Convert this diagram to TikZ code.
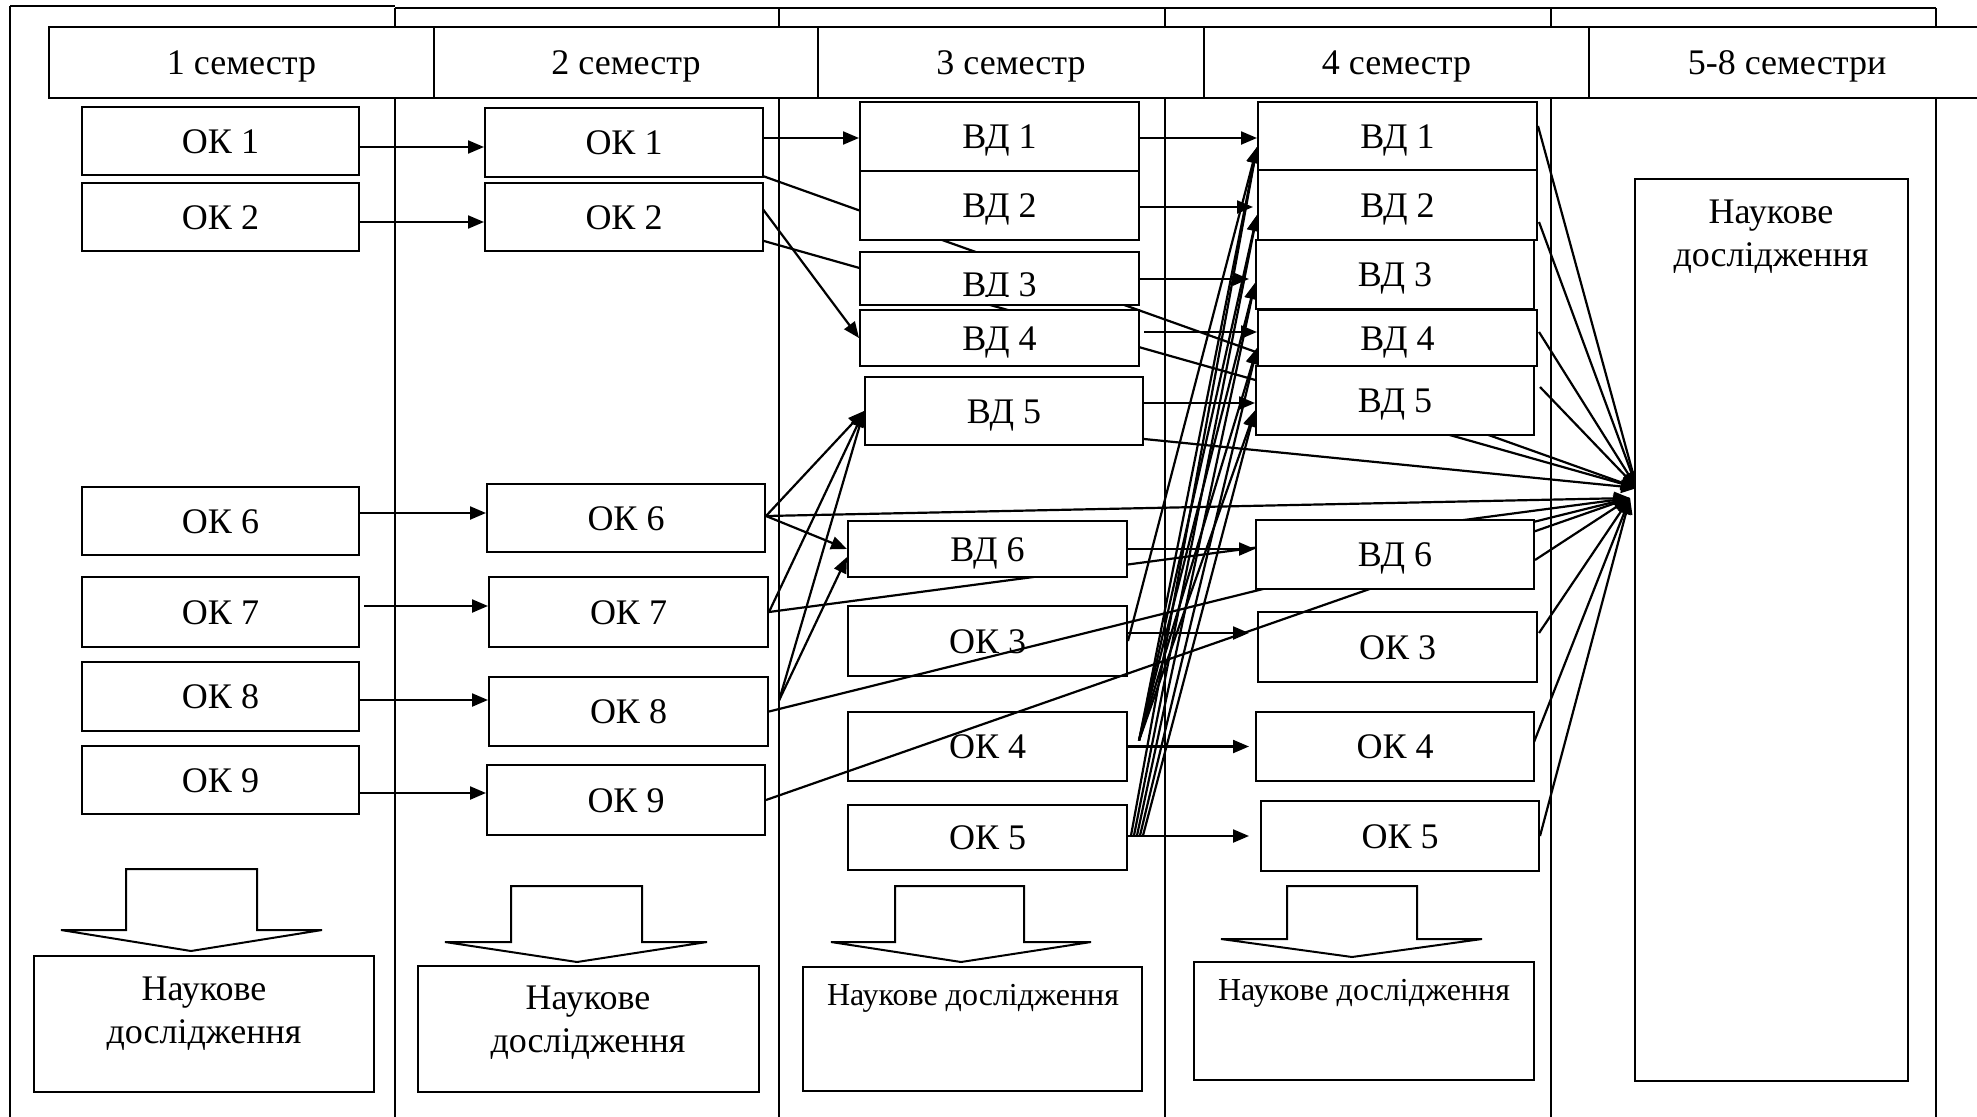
\documentclass[tikz,border=0pt]{standalone}
\usepackage{fontspec}
\setmainfont{Liberation Serif}
\usetikzlibrary{arrows.meta,calc}
\pgfdeclarelayer{back}
\pgfdeclarelayer{over}
\pgfdeclarelayer{top}
\pgfsetlayers{back,main,over,top}
\newcommand\lab{\fontsize{36}{43}\selectfont}
\newcommand\labs{\fontsize{32}{38}\selectfont}
\newcommand\mybox[6]{\node[box,minimum width={#4-#2},minimum height={#5-#3}] (#1) at ({(#2+#4)/2},{(#3+#5)/2}) {#6};}
\newcommand\hcon[4]{\coordinate (tmp) at ($(#1.east)+(#3)$); \draw[con,#4] (tmp) -- (tmp -| #2.west);}
\begin{document}
\begin{tikzpicture}[x=1pt,y=-1pt,
  box/.style={draw,line width=2pt,fill=white,inner sep=0pt,font=\lab,text height=24pt,text depth=0pt},
  lbl/.style={inner sep=0pt,font=\lab,text height=24pt,text depth=0pt},
  slbl/.style={inner sep=0pt,font=\labs,text height=21pt,text depth=0pt},
  con/.style={line width=2.2pt,-{Triangle[length=16pt,width=13pt]}},
  grid/.style={line width=1.6pt},
  blk/.style={draw,line width=2pt,fill=white,line join=miter},
  ntext/.style={font=\lab,align=center,inner sep=0pt}]
\useasboundingbox (0,0) rectangle (1977,1116);

% ---------- header ----------
\mybox{h1}{49}{27}{434}{98}{1 семестр}
\mybox{h2}{434}{27}{818}{98}{2 семестр}
\mybox{h3}{818}{27}{1204}{98}{3 семестр}
\mybox{h4}{1204}{27}{1589}{98}{4 семестр}
\mybox{h5}{1589}{27}{1985}{98}{5-8 семестри}

% ---------- column 1 ----------
\mybox{c1ok1}{82}{107}{359}{175}{ОК 1}
\mybox{c1ok2}{82}{183}{359}{251}{ОК 2}
\mybox{c1ok6}{82}{487}{359}{555}{ОК 6}
\mybox{c1ok7}{82}{577}{359}{647}{ОК 7}
\mybox{c1ok8}{82}{662}{359}{731}{ОК 8}
\mybox{c1ok9}{82}{746}{359}{814}{ОК 9}

% ---------- column 2 ----------
\mybox{c2ok1}{485}{108}{763}{177}{ОК 1}
\mybox{c2ok2}{485}{183}{763}{251}{ОК 2}
\mybox{c2ok6}{487}{484}{765}{552}{ОК 6}
\mybox{c2ok7}{489}{577}{768}{647}{ОК 7}
\mybox{c2ok8}{489}{677}{768}{746}{ОК 8}
\mybox{c2ok9}{487}{765}{765}{835}{ОК 9}

% ---------- column 3 ----------
\mybox{c3vd1}{860}{102}{1139}{171}{ВД 1}
\mybox{c3vd2}{860}{171}{1139}{240}{ВД 2}
\mybox{c3vd3}{860}{252}{1139}{305}{}
\begin{scope}
\clip (860,252) rectangle (1139,296);
\node[lbl] (t3vd3) at (999.5,284) {ВД 3};
\end{scope}
\mybox{c3vd4}{860}{310}{1139}{366}{ВД 4}
\mybox{c3vd5}{865}{377}{1143}{445}{ВД 5}
\mybox{c3vd6}{848}{521}{1127}{577}{ВД 6}
\mybox{c3ok3}{848}{606}{1127}{676}{ОК 3}
\mybox{c3ok4}{848}{712}{1127}{781}{ОК 4}
\mybox{c3ok5}{848}{805}{1127}{870}{ОК 5}

% ---------- column 4 ----------
\mybox{c4vd1}{1258}{102}{1537}{170}{ВД 1}
\mybox{c4vd2}{1258}{170}{1537}{240}{ВД 2}
\mybox{c4vd3}{1256}{240}{1534}{309}{ВД 3}
\mybox{c4vd4}{1258}{310}{1537}{366}{ВД 4}
\mybox{c4vd5}{1256}{366}{1534}{435}{ВД 5}
\begin{pgfonlayer}{top}
\mybox{c4vd6}{1256}{520}{1534}{589}{ВД 6}
\end{pgfonlayer}
\mybox{c4ok3}{1258}{612}{1537}{682}{ОК 3}
\mybox{c4ok4}{1256}{712}{1534}{781}{ОК 4}
\mybox{c4ok5}{1261}{801}{1539}{871}{ОК 5}

% ---------- column 5 ----------
\mybox{n5}{1635}{179}{1908}{1081}{}
\node[ntext] (n5t) at (1771,237) {Наукове\\дослідження};

% ---------- block arrows and research boxes ----------
\draw[blk] (126,869) -- (257,869) -- (257,930) -- (322,930) -- (191,951) -- (61,930) -- (126,930) -- cycle;
\draw[blk] (511,886) -- (642,886) -- (642,942) -- (707,942) -- (577,962) -- (445,942) -- (511,942) -- cycle;
\draw[blk] (895,886) -- (1024,886) -- (1024,942) -- (1091,942) -- (961,962) -- (831,942) -- (895,942) -- cycle;
\draw[blk] (1287,886) -- (1417,886) -- (1417,939) -- (1482,939) -- (1352,957) -- (1221,939) -- (1287,939) -- cycle;

\mybox{n1}{34}{956}{374}{1092}{}
\node[ntext] (n1t) at (204,1014) {Наукове\\дослідження};
\mybox{n2}{418}{966}{759}{1092}{}
\node[ntext] (n2t) at (588,1023) {Наукове\\дослідження};
\mybox{n3}{803}{967}{1142}{1091}{}
\node[slbl] (n3t) at (973,995) {Наукове дослідження};
\mybox{n4}{1194}{962}{1534}{1080}{}
\node[slbl] (n4t) at (1364,990) {Наукове дослідження};

\coordinate (conv1) at (1637,488);
\coordinate (conv2) at (1630,498);

% ---------- back layer: grid and connectors ----------
\begin{pgfonlayer}{back}
\fill[white] (0,0) rectangle (1977,1116);
\draw[grid] (10,6) -- (395,6);
\draw[grid] (395,8) -- (1936,8);
\draw[grid] (10,6) -- (10,1125);
\foreach \x in {395,779,1165,1551,1936} \draw[grid] (\x,8) -- (\x,1125);

% column 1 -> column 2
\hcon{c1ok1}{c2ok1}{0,6}{}
\hcon{c1ok2}{c2ok2}{0,5}{}
\hcon{c1ok6}{c2ok6}{0,-8}{}
\hcon{c1ok7}{c2ok7}{4,-6}{}
\hcon{c1ok8}{c2ok8}{0,3.5}{}
\hcon{c1ok9}{c2ok9}{0,13}{}

% column 2 -> column 3
\hcon{c2ok1}{c3vd1}{0,-4.5}{}
\draw[con] ($(c2ok2.east)+(-2,-9)$) -- (c3vd4.west);
\draw[con] ($(c2ok6.east)+(0,-2)$) -- (c3vd5.west);
\draw[con] ($(c2ok6.east)+(0,-2)$) -- (c3vd6.west);
\draw[con] (c2ok7.east) -- (c3vd5.west);
\draw[con] ($(c2ok8.east)+(10,-11)$) -- (c3vd5.west);
\draw[con] ($(c2ok8.east)+(10,-11)$) -- ($(c3vd6.west)+(0,8)$);

% column 3 -> column 4
\hcon{c3vd1}{c4vd1}{0,1.5}{}
\hcon{c3vd2}{c4vd2}{0,1.5}{shorten >=4pt}
\hcon{c3vd3}{c4vd3}{0,0.5}{shorten >=6pt}
\hcon{c3vd4}{c4vd4}{4,-6}{}
\hcon{c3vd5}{c4vd5}{0,-8}{}
\hcon{c3vd6}{c4vd6}{0,0}{}
\hcon{c3ok3}{c4ok3}{0,-8}{shorten >=8pt}
\hcon{c3ok4}{c4ok4}{0,0}{shorten >=6pt}
\hcon{c3ok5}{c4ok5}{0,-1.5}{shorten >=11pt}

\coordinate (f1) at ($(c4vd1.west)+(0,11)$);
\coordinate (f2) at ($(c4vd2.west)+(0,10)$);
\coordinate (f3) at ($(c4vd3.west)+(0,8.5)$);
\coordinate (f4) at ($(c4vd4.west)+(0,10)$);
\coordinate (f5) at ($(c4vd5.west)+(0,10)$);
\coordinate (s4) at ($(c3ok4.east)+(11,-6)$);
\draw[con] (c3ok3.east) -- (f1);
\foreach \i in {1,...,5} \draw[con] (s4) -- (f\i);
\foreach \i/\dx in {1/3,2/6,3/9,4/12,5/15} \draw[con] ($(c3ok5.east)+(\dx,-2)$) -- (f\i);

% into the final research box
\draw[con] ($(c4vd1.east)+(0,-10)$) -- (conv1);
\draw[con] ($(c4vd2.east)+(1,17)$) -- (conv1);
\draw[con] ($(c4vd4.east)+(1,-6)$) -- (conv1);
\draw[con] ($(c4vd5.east)+(5,-13.5)$) -- (conv1);
\draw[con] ($(c3vd5.south east)+(0,-7)$) -- (conv1);
\draw[con] ($(c2ok1.south east)+(-4,-3)$) -- (conv1);
\draw[con] ($(c2ok2.east)+(0,24)$) -- (conv1);
\draw[con] ($(c2ok6.east)+(0,-2)$) -- (conv2);
\draw[con] (c2ok7.east) -- (conv2);
\draw[con] ($(c4vd6.east)+(0,5.5)$) -- (conv2);
\draw[con] ($(c4ok3.east)+(1,-14)$) -- (conv2);
\draw[con] ($(c4ok4.east)+(-1,-4.5)$) -- (conv2);
\draw[con] (c4ok5.east) -- (conv2);
\end{pgfonlayer}

\begin{pgfonlayer}{over}
\draw[con] (c2ok8.east) -- (conv2);
\draw[con] (c2ok9.east) -- (conv2);
\end{pgfonlayer}
\end{tikzpicture}
\end{document}
